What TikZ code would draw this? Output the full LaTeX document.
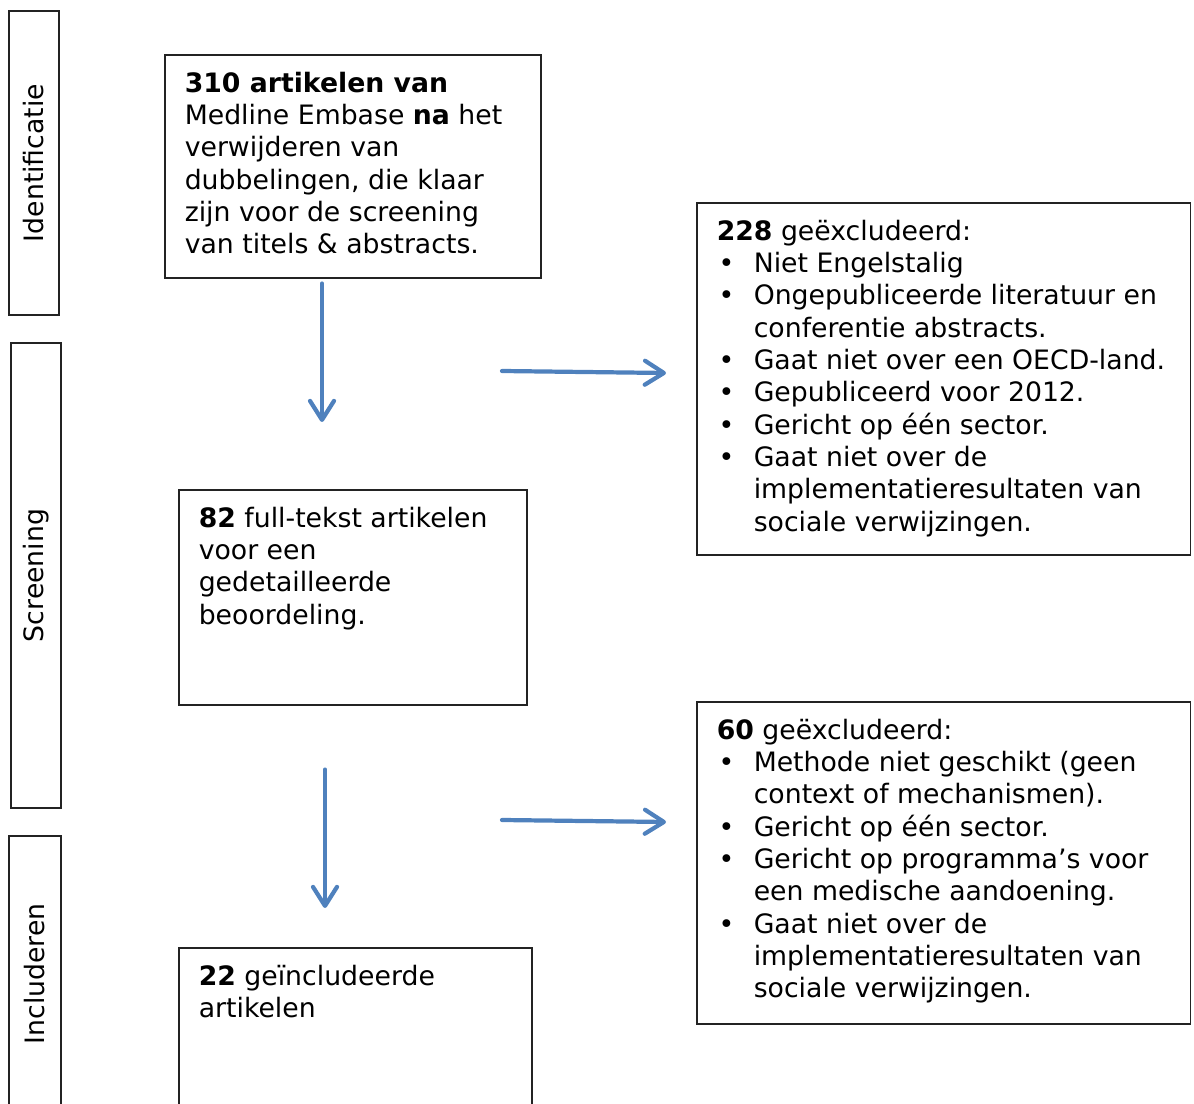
\documentclass[tikz,border=0pt]{standalone}
\usepackage{fontspec}
\setmainfont{DejaVu Sans}
\usetikzlibrary{calc, positioning, arrows.meta}
\definecolor{flowblue}{RGB}{79,129,189}
\definecolor{framegray}{RGB}{35,35,35}

% box content: width, height, text
\newcommand{\boxbody}[3]{\parbox[c][#2][t]{#1}{\rightskip=0pt plus 1fil\relax #3}}
% one excluded criterion with a bullet
\newcommand{\crit}[1]{\par\hangindent=0.74cm\hangafter=1\noindent\makebox[0.74cm][l]{\hspace{1pt}\textbullet}#1}

\begin{document}
\begin{tikzpicture}[
    x=0.02cm, y=-0.02cm,
    every node/.style={font=\fontsize{15.2}{18.4}\selectfont},
    flowbox/.style={draw=framegray, line width=0.9pt, anchor=north west,
      inner xsep=0.4cm, inner ysep=0.34cm},
    phase/.style={draw=framegray, line width=0.9pt, rotate=90, inner sep=0pt},
    flow/.style={draw=flowblue, line width=2.4pt, line cap=round,
      -{Straight Barb[length=0.38cm, width=0.48cm, round]}},
  ]
    \clip (0,0) rectangle (1194,1104);
    \useasboundingbox (0,0) rectangle (1194,1104);

    % phases on the left
    \node[phase, minimum width=6.08cm, minimum height=1.0cm] (ident) at (34,163) {Identificatie};
    \node[phase, minimum width=9.3cm, minimum height=1.0cm] (screen) at (36,575.5) {Screening};
    \node[phase, minimum width=5.52cm, minimum height=1.04cm] (incl) at (35,974) {Includeren};

    % main flow
    \node[flowbox] (found) at (164,54) {\boxbody{6.72cm}{3.78cm}{%
      \textbf{310 artikelen van}\\ Medline Embase \textbf{na} het\\ verwijderen van\\
      dubbelingen, die klaar\\ zijn voor de screening\\ van titels \& abstracts.}};
    \node[flowbox] (fulltext) at (178,489) {\boxbody{6.16cm}{3.62cm}{%
      \textbf{82} full-tekst artikelen\\ voor een\\ gedetailleerde\\ beoordeling.}};
    \node[flowbox] (included) at (178,947) {\boxbody{6.26cm}{2.68cm}{%
      \textbf{22} geïncludeerde\\ artikelen}};

    % exclusions
    \node[flowbox] (excl1) at (696,202) {\boxbody{9.08cm}{6.36cm}{%
      \textbf{228} geëxcludeerd:
      \crit{Niet Engelstalig}
      \crit{Ongepubliceerde literatuur en\\ conferentie abstracts.}
      \crit{Gaat niet over een OECD-land.}
      \crit{Gepubliceerd voor 2012.}
      \crit{Gericht op één sector.}
      \crit{Gaat niet over de\\ implementatieresultaten van\\ sociale verwijzingen.}}};
    \node[flowbox] (excl2) at (696,701) {\boxbody{9.08cm}{5.76cm}{%
      \textbf{60} geëxcludeerd:
      \crit{Methode niet geschikt (geen\\ context of mechanismen).}
      \crit{Gericht op één sector.}
      \crit{Gericht op programma’s voor\\ een medische aandoening.}
      \crit{Gaat niet over de\\ implementatieresultaten van\\ sociale verwijzingen.}}};

    % arrow ends
    \coordinate (d1a) at ($(found.south west)+(158,5)$);
    \coordinate (d1b) at ($(fulltext.north west)+(144,-67)$);
    \coordinate (r1a) at (502,371);
    \coordinate (r1b) at ($(excl1.north west)+(-30,171)$);
    \coordinate (d2a) at ($(fulltext.south west)+(147,64)$);
    \coordinate (d2b) at ($(included.north west)+(147,-39)$);
    \coordinate (r2a) at (502,820);
    \coordinate (r2b) at ($(excl2.north west)+(-30,121)$);

    \draw[flow] (d1a) -- (d1b);
    \draw[flow] (r1a) -- (r1b);
    \draw[flow] (d2a) -- (d2b);
    \draw[flow] (r2a) -- (r2b);
\end{tikzpicture}
\end{document}
